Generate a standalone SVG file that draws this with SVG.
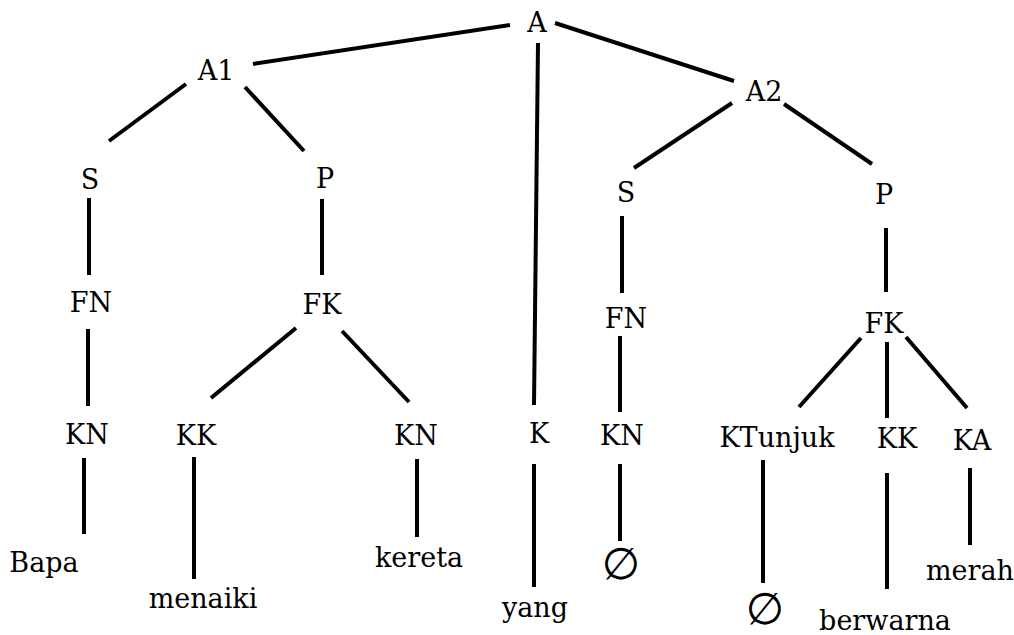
<svg xmlns="http://www.w3.org/2000/svg" width="1014" height="635" viewBox="0 0 1014 635">
<style>
.lbl{font-family:'DejaVu Serif',serif;font-size:27px;fill:#000;text-anchor:middle}
.empty{font-family:'DejaVu Sans',sans-serif;font-size:44px;fill:#000;text-anchor:middle}
.edge{stroke:#000;stroke-width:4}
</style>
<rect width="1014" height="635" fill="#fff"/>
<g id="edges" class="edge" stroke="#000" stroke-width="4">
<line x1="253" y1="64" x2="510" y2="25"/>
<line x1="186" y1="84" x2="109" y2="141"/>
<line x1="245" y1="87" x2="304" y2="151"/>
<line x1="89" y1="198" x2="89" y2="275"/>
<line x1="322" y1="199" x2="322" y2="275"/>
<line x1="555" y1="23" x2="734" y2="81"/>
<line x1="538" y1="43" x2="534" y2="405"/>
<line x1="732" y1="103" x2="634" y2="168"/>
<line x1="784" y1="104" x2="872" y2="164"/>
<line x1="622" y1="216" x2="622" y2="293"/>
<line x1="886" y1="228" x2="886" y2="292"/>
<line x1="88" y1="329" x2="88" y2="406"/>
<line x1="296" y1="328" x2="211" y2="398"/>
<line x1="342" y1="331" x2="409" y2="402"/>
<line x1="84" y1="458" x2="84" y2="534"/>
<line x1="194" y1="457" x2="194" y2="579"/>
<line x1="417" y1="459" x2="417" y2="537"/>
<line x1="534" y1="464" x2="534" y2="587"/>
<line x1="620" y1="336" x2="620" y2="412"/>
<line x1="620" y1="464" x2="620" y2="541"/>
<line x1="861" y1="338" x2="799" y2="407"/>
<line x1="887" y1="342" x2="887" y2="418"/>
<line x1="906" y1="337" x2="967" y2="408"/>
<line x1="763" y1="460" x2="763" y2="583"/>
<line x1="887" y1="473" x2="887" y2="589"/>
<line x1="970" y1="468" x2="970" y2="545"/>
</g>
<g>
<g id="n-A"><text class="lbl" x="537" y="32">A</text></g>
<g id="n-A1"><text class="lbl" x="216" y="80">A1</text></g>
<g id="n-A2"><text class="lbl" x="764" y="101">A2</text></g>
<g id="n-S1"><text class="lbl" x="90" y="189">S</text></g>
<g id="n-P1"><text class="lbl" x="325" y="188">P</text></g>
<g id="n-FN1"><text class="lbl" x="91" y="312">FN</text></g>
<g id="n-FK1"><text class="lbl" x="322" y="314">FK</text></g>
<g id="n-S2"><text class="lbl" x="626" y="202">S</text></g>
<g id="n-P2"><text class="lbl" x="884" y="204">P</text></g>
<g id="n-FN2"><text class="lbl" x="626" y="328">FN</text></g>
<g id="n-FK2"><text class="lbl" x="884" y="333">FK</text></g>
<g id="n-KN1"><text class="lbl" x="87" y="444">KN</text></g>
<g id="n-KK1"><text class="lbl" x="196" y="445">KK</text></g>
<g id="n-KN2"><text class="lbl" x="416" y="445">KN</text></g>
<g id="n-K"><text class="lbl" x="539" y="443">K</text></g>
<g id="n-KN3"><text class="lbl" x="622" y="445">KN</text></g>
<g id="n-KTunjuk"><text class="lbl" x="777" y="447">KTunjuk</text></g>
<g id="n-KK2"><text class="lbl" x="897" y="448">KK</text></g>
<g id="n-KA"><text class="lbl" x="972" y="450">KA</text></g>
<g id="n-Bapa"><text class="lbl" x="44" y="572">Bapa</text></g>
<g id="n-menaiki"><text class="lbl" x="203" y="608">menaiki</text></g>
<g id="n-kereta"><text class="lbl" x="419" y="567">kereta</text></g>
<g id="n-yang"><text class="lbl" x="535" y="617">yang</text></g>
<g id="n-empty1"><text class="empty" x="621" y="579">∅</text></g>
<g id="n-empty2"><text class="empty" x="765" y="624">∅</text></g>
<g id="n-berwarna"><text class="lbl" x="885" y="630">berwarna</text></g>
<g id="n-merah"><text class="lbl" x="970" y="580">merah</text></g>
</g>
</svg>
